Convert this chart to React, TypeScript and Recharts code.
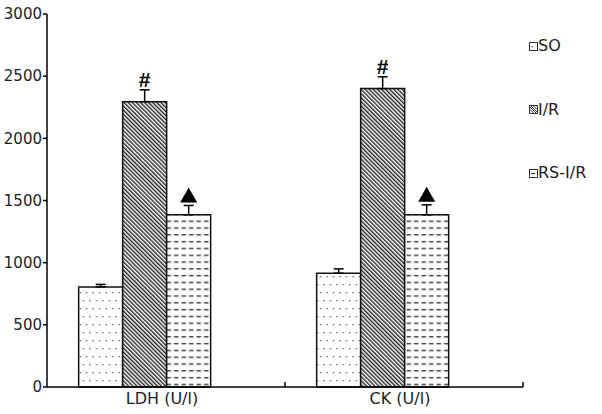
import React from 'react';
import { BarChart, Bar, XAxis, YAxis, ErrorBar, LabelList } from 'recharts';

const categories = ['LDH (U/l)', 'CK (U/l)'];
const seriesNames = ['SO', 'I/R', 'RS-I/R'];
const soValues = [805, 915];
const irValues = [2295, 2400];
const rsValues = [1385, 1385];
const soErrors = [20, 35];
const irErrors = [95, 95];
const rsErrors = [75, 80];
const padValues = [0, 0];
const yTicks = [0, 500, 1000, 1500, 2000, 2500, 3000];

const data = categories.map((c, i) => ({
  name: c,
  so: soValues[i],
  ir: irValues[i],
  rs: rsValues[i],
  pad: padValues[i],
  soErr: [0, soErrors[i]],
  irErr: [0, irErrors[i]],
  rsErr: [0, rsErrors[i]],
}));

const FONT = '"DejaVu Sans", sans-serif';
const TEXT = '#1c1c1c';

const makeMark = (errors: number[], kind: 'hash' | 'tri') => (props: any) => {
  const { x, y, width, height, value } = props;
  const index = props.index ?? 0;
  const px = Number(height) / Number(value);
  const top = Number(y) - errors[index] * px;
  const cx = Number(x) + Number(width) / 2;
  if (kind === 'hash') {
    return (
      <text x={cx} y={top - 3} textAnchor="middle" fontSize={21} fontWeight="bold"
        fontFamily='"Liberation Sans", Arial, sans-serif' fill="#000">#</text>
    );
  }
  return <path d={`M${cx - 8.5},${top - 3} L${cx + 8.5},${top - 3} L${cx},${top - 18} Z`} fill="#000" />;
};

const XTick = (props: any) => {
  const { x, y, payload } = props;
  const off = payload?.offset ?? 0;
  return (
    <g>
      <text x={x - 4} y={y + 17} textAnchor="middle" fontSize={16} fontFamily={FONT} fill={TEXT}>
        {payload.value}
      </text>
      <line x1={x + off} x2={x + off} y1={y} y2={y - 5} stroke="#000" strokeWidth={1.5} />
    </g>
  );
};

const LegendIcon = ({ kind }: { kind: number }) => (
  <svg width={9} height={9} style={{ display: 'block' }}>
    <rect x={0.5} y={0.5} width={8} height={8} fill="#fff" stroke="#333" strokeWidth={1} />
    {kind === 0 && <rect x={2.5} y={4} width={1.2} height={1.2} fill="#333" />}
    {kind === 1 && (
      <g stroke="#333" strokeWidth={1}>
        <line x1={1} y1={2} x2={7} y2={8} />
        <line x1={2} y1={1} x2={8} y2={7} />
        <line x1={1} y1={4.5} x2={4.5} y2={8} />
        <line x1={4.5} y1={1} x2={8} y2={4.5} />
      </g>
    )}
    {kind === 2 && <rect x={2} y={4} width={4} height={1.2} fill="#333" />}
  </svg>
);

export default function App() {
  return (
    <div style={{ position: 'absolute', left: 0, top: 0, width: 602, height: 414, background: '#fff' }}>
      <BarChart
        width={602}
        height={414}
        data={data}
        margin={{ top: 14, right: 79, bottom: 0, left: 0 }}
        barCategoryGap="13.3%"
        barGap={0}
      >
        <defs>
          <pattern id="dots" width={6.5} height={16} patternUnits="userSpaceOnUse">
            <rect width={6.5} height={16} fill="#fff" />
            <rect x={1.5} y={4} width={1.3} height={1.3} fill="#555" />
            <rect x={4.75} y={12} width={1.3} height={1.3} fill="#555" />
          </pattern>
          <pattern id="hatch" width={2.9} height={6} patternUnits="userSpaceOnUse" patternTransform="rotate(-45)">
            <rect width={2.9} height={6} fill="#fff" />
            <rect x={0} y={0} width={1.4} height={6} fill="#222" />
          </pattern>
          <pattern id="dashes" width={7.5} height={6.8} patternUnits="userSpaceOnUse">
            <rect width={7.5} height={6.8} fill="#fff" />
            <rect x={1.5} y={3} width={4.5} height={1.3} fill="#2a2a2a" />
          </pattern>
        </defs>
        <XAxis
          dataKey="name"
          height={27}
          tickSize={0}
          tickMargin={0}
          tickLine={false}
          axisLine={{ stroke: '#000', strokeWidth: 1.5 }}
          tick={<XTick />}
          interval={0}
        />
        <YAxis
          width={47}
          domain={[0, 3000]}
          ticks={yTicks}
          interval={0}
          tickSize={4}
          tickMargin={1}
          axisLine={{ stroke: '#000', strokeWidth: 1.5 }}
          tickLine={{ stroke: '#000', strokeWidth: 1.5 }}
          tick={{ fontSize: 15, fontFamily: FONT, fill: TEXT }}
        />
        <Bar dataKey="so" name={seriesNames[0]} fill="url(#dots)" stroke="#111" strokeWidth={1.5} isAnimationActive={false}>
          <ErrorBar dataKey="soErr" direction="y" width={5} stroke="#000" strokeWidth={1.5} isAnimationActive={false} />
        </Bar>
        <Bar dataKey="ir" name={seriesNames[1]} fill="url(#hatch)" stroke="#111" strokeWidth={1.5} isAnimationActive={false}>
          <ErrorBar dataKey="irErr" direction="y" width={5} stroke="#000" strokeWidth={1.5} isAnimationActive={false} />
          <LabelList dataKey="ir" content={makeMark(irErrors, 'hash')} />
        </Bar>
        <Bar dataKey="rs" name={seriesNames[2]} fill="url(#dashes)" stroke="#111" strokeWidth={1.5} isAnimationActive={false}>
          <ErrorBar dataKey="rsErr" direction="y" width={5} stroke="#000" strokeWidth={1.5} isAnimationActive={false} />
          <LabelList dataKey="rs" content={makeMark(rsErrors, 'tri')} />
        </Bar>
        <Bar dataKey="pad" fill="none" isAnimationActive={false} />
      </BarChart>
      <div style={{ position: 'absolute', left: 529, top: 36, fontFamily: FONT, fontSize: 16, color: TEXT }}>
        {seriesNames.map((n, i) => (
          <div key={n} style={{ display: 'flex', alignItems: 'center', height: 20, marginBottom: 43.5, lineHeight: '20px' }}>
            <LegendIcon kind={i} />
            <span>{n}</span>
          </div>
        ))}
      </div>
    </div>
  );
}
